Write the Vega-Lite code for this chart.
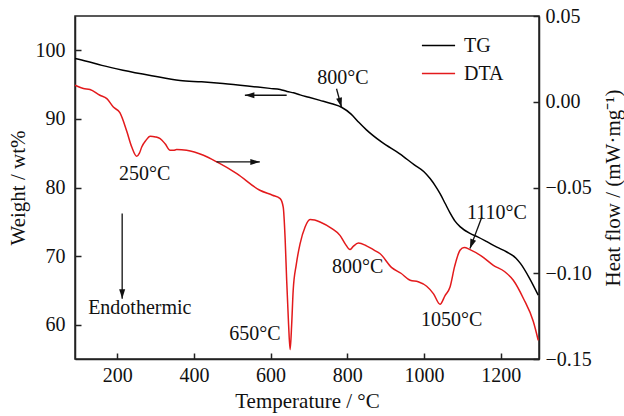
{
  "$schema": "https://vega.github.io/schema/vega-lite/v6.json",
  "width": 464,
  "height": 343,
  "autosize": {"type": "none"},
  "padding": {"left": 75, "top": 16, "right": 85, "bottom": 57},
  "background": "white",
  "config": {
    "font": "Liberation Serif",
    "view": {"stroke": "#222", "strokeWidth": 1.5},
    "axis": {
      "labelFont": "Liberation Serif", "titleFont": "Liberation Serif",
      "labelFontSize": 20, "titleFontSize": 21,
      "labelColor": "#111", "titleColor": "#111", "titleFontWeight": "normal",
      "domainColor": "#222", "domainWidth": 1.5,
      "tickColor": "#222", "tickWidth": 1.5, "tickSize": -6,
      "labelPadding": 12, "grid": false
    }
  },
  "datasets": {
    "tg": [
      {"T": 90, "v": 98.8}, {"T": 120, "v": 98.4}, {"T": 160, "v": 97.8}, {"T": 215, "v": 97.1},
      {"T": 290, "v": 96.3}, {"T": 364, "v": 95.6}, {"T": 420, "v": 95.4}, {"T": 476, "v": 95.15},
      {"T": 540, "v": 94.8}, {"T": 598, "v": 94.45}, {"T": 625, "v": 94.3}, {"T": 643, "v": 94.0},
      {"T": 660, "v": 93.8}, {"T": 677, "v": 93.5}, {"T": 700, "v": 93.15}, {"T": 729, "v": 92.7},
      {"T": 760, "v": 92.2}, {"T": 785, "v": 91.7}, {"T": 810, "v": 90.7}, {"T": 830, "v": 89.5},
      {"T": 850, "v": 88.4}, {"T": 890, "v": 86.6}, {"T": 937, "v": 84.9}, {"T": 975, "v": 83.3},
      {"T": 1000, "v": 82.3}, {"T": 1016, "v": 81.3}, {"T": 1030, "v": 80.2}, {"T": 1042, "v": 79.1},
      {"T": 1055, "v": 77.7}, {"T": 1068, "v": 76.3}, {"T": 1081, "v": 75.1}, {"T": 1094, "v": 74.3},
      {"T": 1120, "v": 73.3}, {"T": 1140, "v": 72.8}, {"T": 1164, "v": 72.1}, {"T": 1190, "v": 71.3},
      {"T": 1216, "v": 70.6}, {"T": 1240, "v": 69.7}, {"T": 1252, "v": 68.9}, {"T": 1275, "v": 66.8},
      {"T": 1298, "v": 64.3}
    ],
    "dta": [
      {"T": 90, "v": 0.0096}, {"T": 112, "v": 0.0077}, {"T": 129, "v": 0.0071}, {"T": 155, "v": 0.0038},
      {"T": 173, "v": 0.0018}, {"T": 190, "v": -0.0031}, {"T": 207, "v": -0.0064}, {"T": 225, "v": -0.0172},
      {"T": 238, "v": -0.0264}, {"T": 251, "v": -0.0318}, {"T": 258, "v": -0.03}, {"T": 264, "v": -0.0264},
      {"T": 275, "v": -0.0225}, {"T": 286, "v": -0.0201}, {"T": 300, "v": -0.0205}, {"T": 312, "v": -0.0215},
      {"T": 325, "v": -0.0245}, {"T": 338, "v": -0.0283}, {"T": 347, "v": -0.0283}, {"T": 355, "v": -0.0279},
      {"T": 381, "v": -0.0283}, {"T": 425, "v": -0.0312}, {"T": 460, "v": -0.0351}, {"T": 512, "v": -0.0419},
      {"T": 572, "v": -0.0516}, {"T": 605, "v": -0.0545}, {"T": 625, "v": -0.0565}, {"T": 633, "v": -0.0614},
      {"T": 638, "v": -0.08}, {"T": 642, "v": -0.1041}, {"T": 647, "v": -0.13}, {"T": 651, "v": -0.1445},
      {"T": 655, "v": -0.13}, {"T": 659, "v": -0.1099}, {"T": 667, "v": -0.095}, {"T": 677, "v": -0.0827},
      {"T": 690, "v": -0.073}, {"T": 703, "v": -0.0687}, {"T": 715, "v": -0.069}, {"T": 729, "v": -0.0701},
      {"T": 760, "v": -0.074}, {"T": 781, "v": -0.0779}, {"T": 795, "v": -0.083}, {"T": 807, "v": -0.0862},
      {"T": 815, "v": -0.0845}, {"T": 829, "v": -0.0824}, {"T": 850, "v": -0.084}, {"T": 870, "v": -0.0865},
      {"T": 885, "v": -0.0885}, {"T": 916, "v": -0.0967}, {"T": 940, "v": -0.1}, {"T": 964, "v": -0.1041},
      {"T": 985, "v": -0.105}, {"T": 1007, "v": -0.1076}, {"T": 1025, "v": -0.112}, {"T": 1042, "v": -0.1181},
      {"T": 1055, "v": -0.113}, {"T": 1068, "v": -0.108}, {"T": 1080, "v": -0.096}, {"T": 1094, "v": -0.0866},
      {"T": 1105, "v": -0.085}, {"T": 1120, "v": -0.0862}, {"T": 1150, "v": -0.09}, {"T": 1181, "v": -0.0954},
      {"T": 1210, "v": -0.099}, {"T": 1233, "v": -0.1041}, {"T": 1260, "v": -0.115}, {"T": 1285, "v": -0.128},
      {"T": 1298, "v": -0.1391}
    ],
    "tgText": [
      {"T": 789, "v": 95.9, "label": "800°C"}
    ],
    "tgArrows": [
      {"id": "a800", "T": 772, "v": 94.4, "T2": 785, "v2": 91.7},
      {"id": "left", "T": 642, "v": 93.45, "T2": 533, "v2": 93.45}
    ],
    "dtaText": [
      {"T": 272, "v": -0.0423, "label": "250°C"},
      {"T": 259, "v": -0.1204, "label": "Endothermic"},
      {"T": 559, "v": -0.1356, "label": "650°C"},
      {"T": 827, "v": -0.0964, "label": "800°C"},
      {"T": 1072, "v": -0.1274, "label": "1050°C"},
      {"T": 1190, "v": -0.0648, "label": "1110°C"}
    ],
    "dtaArrows": [
      {"id": "right", "T": 459, "v": -0.0351, "T2": 572, "v2": -0.0351},
      {"id": "endo", "T": 213, "v": -0.0652, "T2": 213, "v2": -0.1148},
      {"id": "a1110", "T": 1151, "v": -0.0672, "T2": 1120, "v2": -0.0856}
    ]
  },
  "layer": [
    {
      "encoding": {
        "x": {"field": "T", "type": "quantitative", "scale": {"domain": [90, 1300], "nice": false},
              "axis": {"values": [200, 400, 600, 800, 1000, 1200], "format": "d", "title": "Temperature / °C",
                       "titleX": 232, "titleY": 42, "titleBaseline": "middle", "titleAnchor": "middle"}},
        "y": {"field": "v", "type": "quantitative", "scale": {"domain": [55, 105], "nice": false, "zero": false},
              "axis": {"orient": "left", "values": [60, 70, 80, 90, 100], "title": "Weight / wt%", "labelPadding": 16,
                       "titleX": -57, "titleY": 171.5, "titleAngle": 270, "titleBaseline": "middle", "titleAlign": "center"}}
      },
      "layer": [
        {
          "data": {"name": "tg"},
          "mark": {"type": "line", "strokeWidth": 1.5, "interpolate": "monotone"},
          "encoding": {
            "color": {"datum": "TG", "type": "nominal",
                      "scale": {"domain": ["TG", "DTA"], "range": ["#000000", "#e31a1c"]},
                      "legend": {"orient": "none", "legendX": 346, "legendY": 12, "title": null,
                                 "symbolType": "stroke", "symbolSize": 1100, "symbolStrokeWidth": 1.5,
                                 "labelFontSize": 20, "labelFont": "Liberation Serif", "labelColor": "#111",
                                 "labelOffset": 8, "rowPadding": -7, "padding": 0}}
          }
        },
        {
          "data": {"name": "tgText"},
          "mark": {"type": "text", "fontSize": 20, "font": "Liberation Serif", "color": "#111", "align": "center", "baseline": "middle"},
          "encoding": {"text": {"field": "label"}}
        },
        {
          "data": {"name": "tgArrows"},
          "mark": {"type": "rule", "color": "#111", "strokeWidth": 1.3},
          "encoding": {"x2": {"field": "T2"}, "y2": {"field": "v2"}}
        },
        {
          "data": {"name": "tgArrows"},
          "transform": [{"filter": "datum.id === 'a800'"}],
          "mark": {"type": "point", "shape": "M0,0L-0.6,-1.9L0.6,-1.9Z", "filled": true, "color": "#111", "opacity": 1, "size": 100, "angle": -15},
          "encoding": {"x": {"field": "T2", "type": "quantitative"}, "y": {"field": "v2", "type": "quantitative"}}
        },
        {
          "data": {"name": "tgArrows"},
          "transform": [{"filter": "datum.id === 'left'"}],
          "mark": {"type": "point", "shape": "M0,0L-0.6,-1.9L0.6,-1.9Z", "filled": true, "color": "#111", "opacity": 1, "size": 100, "angle": 90},
          "encoding": {"x": {"field": "T2", "type": "quantitative"}, "y": {"field": "v2", "type": "quantitative"}}
        }
      ]
    },
    {
      "encoding": {
        "x": {"field": "T", "type": "quantitative", "scale": {"domain": [90, 1300], "nice": false},
              "axis": {"values": [200, 400, 600, 800, 1000, 1200], "format": "d", "title": "Temperature / °C",
                       "titleX": 232, "titleY": 42, "titleBaseline": "middle", "titleAnchor": "middle"}},
        "y": {"field": "v", "type": "quantitative", "scale": {"domain": [-0.15, 0.05], "nice": false, "zero": false},
              "axis": {"orient": "right", "values": [-0.15, -0.1, -0.05, 0, 0.05], "format": ".2f",
                       "title": "Heat flow / (mW·mg⁻¹)",
                       "titleX": 74, "titleY": 171.5, "titleAngle": 270, "titleBaseline": "middle", "titleAlign": "center"}}
      },
      "layer": [
        {
          "data": {"name": "dta"},
          "mark": {"type": "line", "strokeWidth": 1.5, "interpolate": "monotone"},
          "encoding": {
            "color": {"datum": "DTA", "type": "nominal",
                      "scale": {"domain": ["TG", "DTA"], "range": ["#000000", "#e31a1c"]}}
          }
        },
        {
          "data": {"name": "dtaText"},
          "mark": {"type": "text", "fontSize": 20, "font": "Liberation Serif", "color": "#111", "align": "center", "baseline": "middle"},
          "encoding": {"text": {"field": "label"}}
        },
        {
          "data": {"name": "dtaArrows"},
          "mark": {"type": "rule", "color": "#111", "strokeWidth": 1.3},
          "encoding": {"x2": {"field": "T2"}, "y2": {"field": "v2"}}
        },
        {
          "data": {"name": "dtaArrows"},
          "transform": [{"filter": "datum.id === 'right'"}],
          "mark": {"type": "point", "shape": "M0,0L-0.6,-1.9L0.6,-1.9Z", "filled": true, "color": "#111", "opacity": 1, "size": 100, "angle": -90},
          "encoding": {"x": {"field": "T2", "type": "quantitative"}, "y": {"field": "v2", "type": "quantitative"}}
        },
        {
          "data": {"name": "dtaArrows"},
          "transform": [{"filter": "datum.id === 'endo'"}],
          "mark": {"type": "point", "shape": "M0,0L-0.6,-1.9L0.6,-1.9Z", "filled": true, "color": "#111", "opacity": 1, "size": 100, "angle": 0},
          "encoding": {"x": {"field": "T2", "type": "quantitative"}, "y": {"field": "v2", "type": "quantitative"}}
        },
        {
          "data": {"name": "dtaArrows"},
          "transform": [{"filter": "datum.id === 'a1110'"}],
          "mark": {"type": "point", "shape": "M0,0L-0.6,-1.9L0.6,-1.9Z", "filled": true, "color": "#111", "opacity": 1, "size": 100, "angle": 20},
          "encoding": {"x": {"field": "T2", "type": "quantitative"}, "y": {"field": "v2", "type": "quantitative"}}
        }
      ]
    }
  ],
  "resolve": {"scale": {"y": "independent"}}
}
